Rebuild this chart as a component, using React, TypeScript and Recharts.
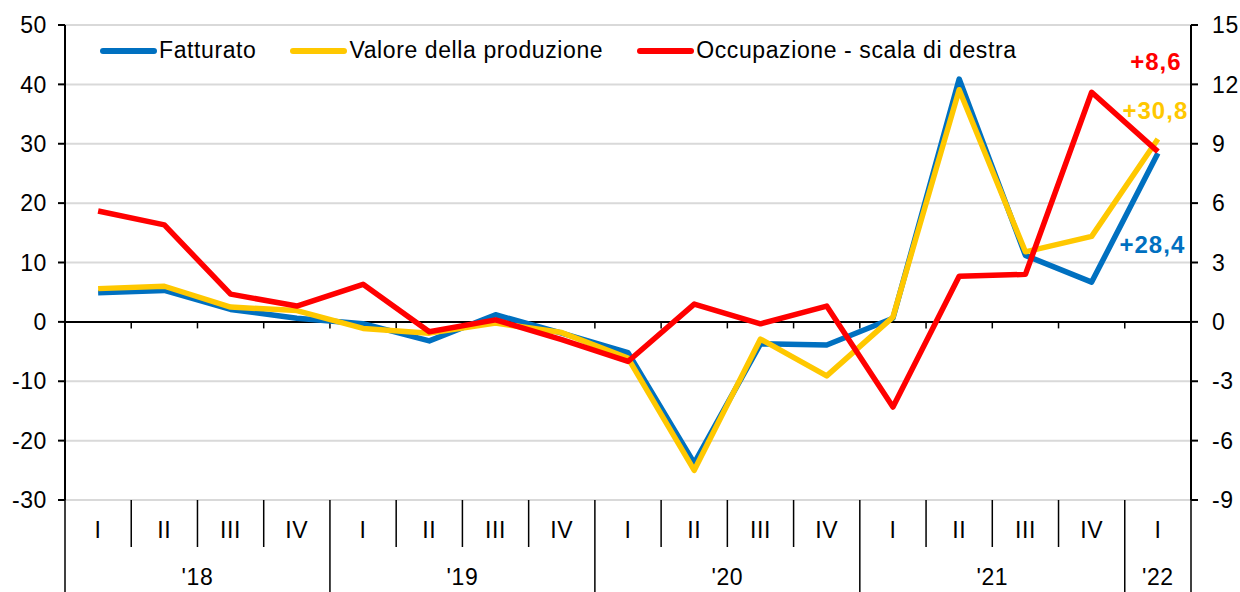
import React from 'react';
import {
  ComposedChart,
  Line,
  XAxis,
  YAxis,
  CartesianGrid,
  ReferenceLine,
  Legend,
  LabelList,
} from 'recharts';

const FONT = '"Liberation Sans", Arial, sans-serif';

const quarters = ['I', 'II', 'III', 'IV', 'I', 'II', 'III', 'IV', 'I', 'II', 'III', 'IV', 'I', 'II', 'III', 'IV', 'I'];
const years = ["'18", "'19", "'20", "'21", "'22"];
const yearBounds = [0, 4, 8, 12, 16, 17];

const fatturato = [4.9, 5.3, 2.1, 0.6, -0.3, -3.2, 1.2, -1.9, -5.2, -23.8, -3.7, -3.9, 0.6, 40.9, 11.2, 6.7, 28.4];
const valore = [5.6, 6.0, 2.5, 1.9, -1.1, -1.9, -0.2, -1.8, -6.1, -25.0, -2.9, -9.1, 0.8, 39.1, 11.8, 14.4, 30.8];
const occupazione = [5.6, 4.9, 1.4, 0.8, 1.9, -0.5, 0.1, -0.9, -2.0, 0.9, -0.1, 0.8, -4.3, 2.3, 2.4, 11.6, 8.6];

const leftTicks = [-30, -20, -10, 0, 10, 20, 30, 40, 50];
const rightTicks = [-9, -6, -3, 0, 3, 6, 9, 12, 15];

const series = [
  { key: 'f', name: 'Fatturato', color: '#0070C0' },
  { key: 'v', name: 'Valore della produzione', color: '#FFC800' },
  { key: 'o', name: 'Occupazione - scala di destra', color: '#FF0000' },
];

const data = quarters.map((q, i) => ({
  pos: i + 0.5,
  q,
  f: fatturato[i],
  v: valore[i],
  o: occupazione[i],
}));

const xTicks = Array.from({ length: quarters.length * 2 + 1 }, (_, k) => k / 2);
const boundaryTicks = Array.from({ length: quarters.length - 1 }, (_, k) => k + 1);

const fmt = (v: number) => (v >= 0 ? '+' : '') + v.toFixed(1).replace('.', ',');

const TXT = { fill: '#000', fontSize: 23, fontFamily: FONT, letterSpacing: 0.6 };

const XTick = (props: any) => {
  const { x, y, payload } = props;
  const v = payload.value;
  const items: any[] = [];
  if (Number.isInteger(v)) {
    const isYear = yearBounds.includes(v);
    items.push(
      <line key="l" x1={x} x2={x} y1={y} y2={y + (isYear ? 92 : 47)} stroke="#000" strokeWidth={1.5} />
    );
  } else {
    items.push(
      <text key="q" x={x} y={y + 30} textAnchor="middle" dominantBaseline="central" {...TXT}>
        {quarters[Math.floor(v)]}
      </text>
    );
  }
  for (let j = 0; j < years.length; j++) {
    const mid = (yearBounds[j] + yearBounds[j + 1]) / 2;
    if (mid === v) {
      items.push(
        <text key="y" x={x} y={y + 77} textAnchor="middle" dominantBaseline="central" {...TXT}>
          {years[j]}
        </text>
      );
    }
  }
  return <g>{items}</g>;
};

const endLabel = (color: string, dx: number, dy: number) => (p: any) =>
  p.index === quarters.length - 1 ? (
    <text
      x={p.x + dx}
      y={p.y + dy}
      fill={color}
      fontSize={24}
      fontWeight="bold"
      fontFamily={FONT}
      letterSpacing={1}
      textAnchor="middle"
      dominantBaseline="central"
    >
      {fmt(p.value)}
    </text>
  ) : null;

const renderLegend = () => (
  <div style={{ display: 'flex', alignItems: 'center', fontFamily: FONT, fontSize: 23, letterSpacing: 0.6, color: '#000', whiteSpace: 'nowrap' }}>
    {series.map((s) => (
      <div key={s.key} style={{ display: 'flex', alignItems: 'center', marginRight: 34 }}>
        <div style={{ width: 57, height: 6, borderRadius: 3, background: s.color, marginRight: 2 }} />
        <span>{s.name}</span>
      </div>
    ))}
  </div>
);

export default function App() {
  return (
    <div style={{ position: 'absolute', left: 0, top: 0, background: '#fff' }}>
      <ComposedChart width={1240} height={592} data={data} margin={{ top: 25, right: 5, bottom: 0, left: 9 }}>
        <CartesianGrid horizontal vertical={false} yAxisId="l" xAxisId="x" stroke="#d9d9d9" strokeWidth={2} />
        <XAxis
          xAxisId="x"
          dataKey="pos"
          type="number"
          domain={[0, quarters.length]}
          ticks={xTicks}
          interval={0}
          height={92}
          axisLine={false}
          tickLine={false}
          tickSize={0}
          tickMargin={0}
          tick={<XTick />}
        />
        <YAxis
          yAxisId="l"
          orientation="left"
          domain={[-30, 50]}
          ticks={leftTicks}
          interval={0}
          width={56}
          axisLine={{ stroke: '#000', strokeWidth: 2 }}
          tickLine={{ stroke: '#000', strokeWidth: 2 }}
          tickSize={7}
          tickMargin={11}
          tick={TXT}
        />
        <YAxis
          yAxisId="r"
          orientation="right"
          domain={[-9, 15]}
          ticks={rightTicks}
          interval={0}
          width={44}
          axisLine={{ stroke: '#000', strokeWidth: 2 }}
          tickLine={{ stroke: '#000', strokeWidth: 2 }}
          tickSize={7}
          tickMargin={14}
          tick={TXT}
        />
        <ReferenceLine xAxisId="x" yAxisId="l" y={0} stroke="#000" strokeWidth={2} />
        {boundaryTicks.map((b) => (
          <ReferenceLine
            key={b}
            xAxisId="x"
            yAxisId="l"
            segment={[{ x: b, y: 0 }, { x: b, y: -1.1 }]}
            stroke="#000"
            strokeWidth={1.5}
          />
        ))}
        <Legend
          layout="horizontal"
          verticalAlign="middle"
          align="center"
          content={renderLegend}
          wrapperStyle={{ top: 37, left: 100, width: 'auto', height: 'auto' }}
        />
        <Line xAxisId="x" yAxisId="l" type="linear" dataKey="f" name={series[0].name} stroke={series[0].color} strokeWidth={5.5} dot={false} isAnimationActive={false} strokeLinejoin="round">
          <LabelList dataKey="f" content={endLabel(series[0].color, -5.5, 91)} />
        </Line>
        <Line xAxisId="x" yAxisId="l" type="linear" dataKey="v" name={series[1].name} stroke={series[1].color} strokeWidth={5.5} dot={false} isAnimationActive={false} strokeLinejoin="round">
          <LabelList dataKey="v" content={endLabel(series[1].color, -2.5, -29)} />
        </Line>
        <Line xAxisId="x" yAxisId="r" type="linear" dataKey="o" name={series[2].name} stroke={series[2].color} strokeWidth={5.5} dot={false} isAnimationActive={false} strokeLinejoin="round">
          <LabelList dataKey="o" content={endLabel(series[2].color, -2, -90)} />
        </Line>
      </ComposedChart>
    </div>
  );
}
